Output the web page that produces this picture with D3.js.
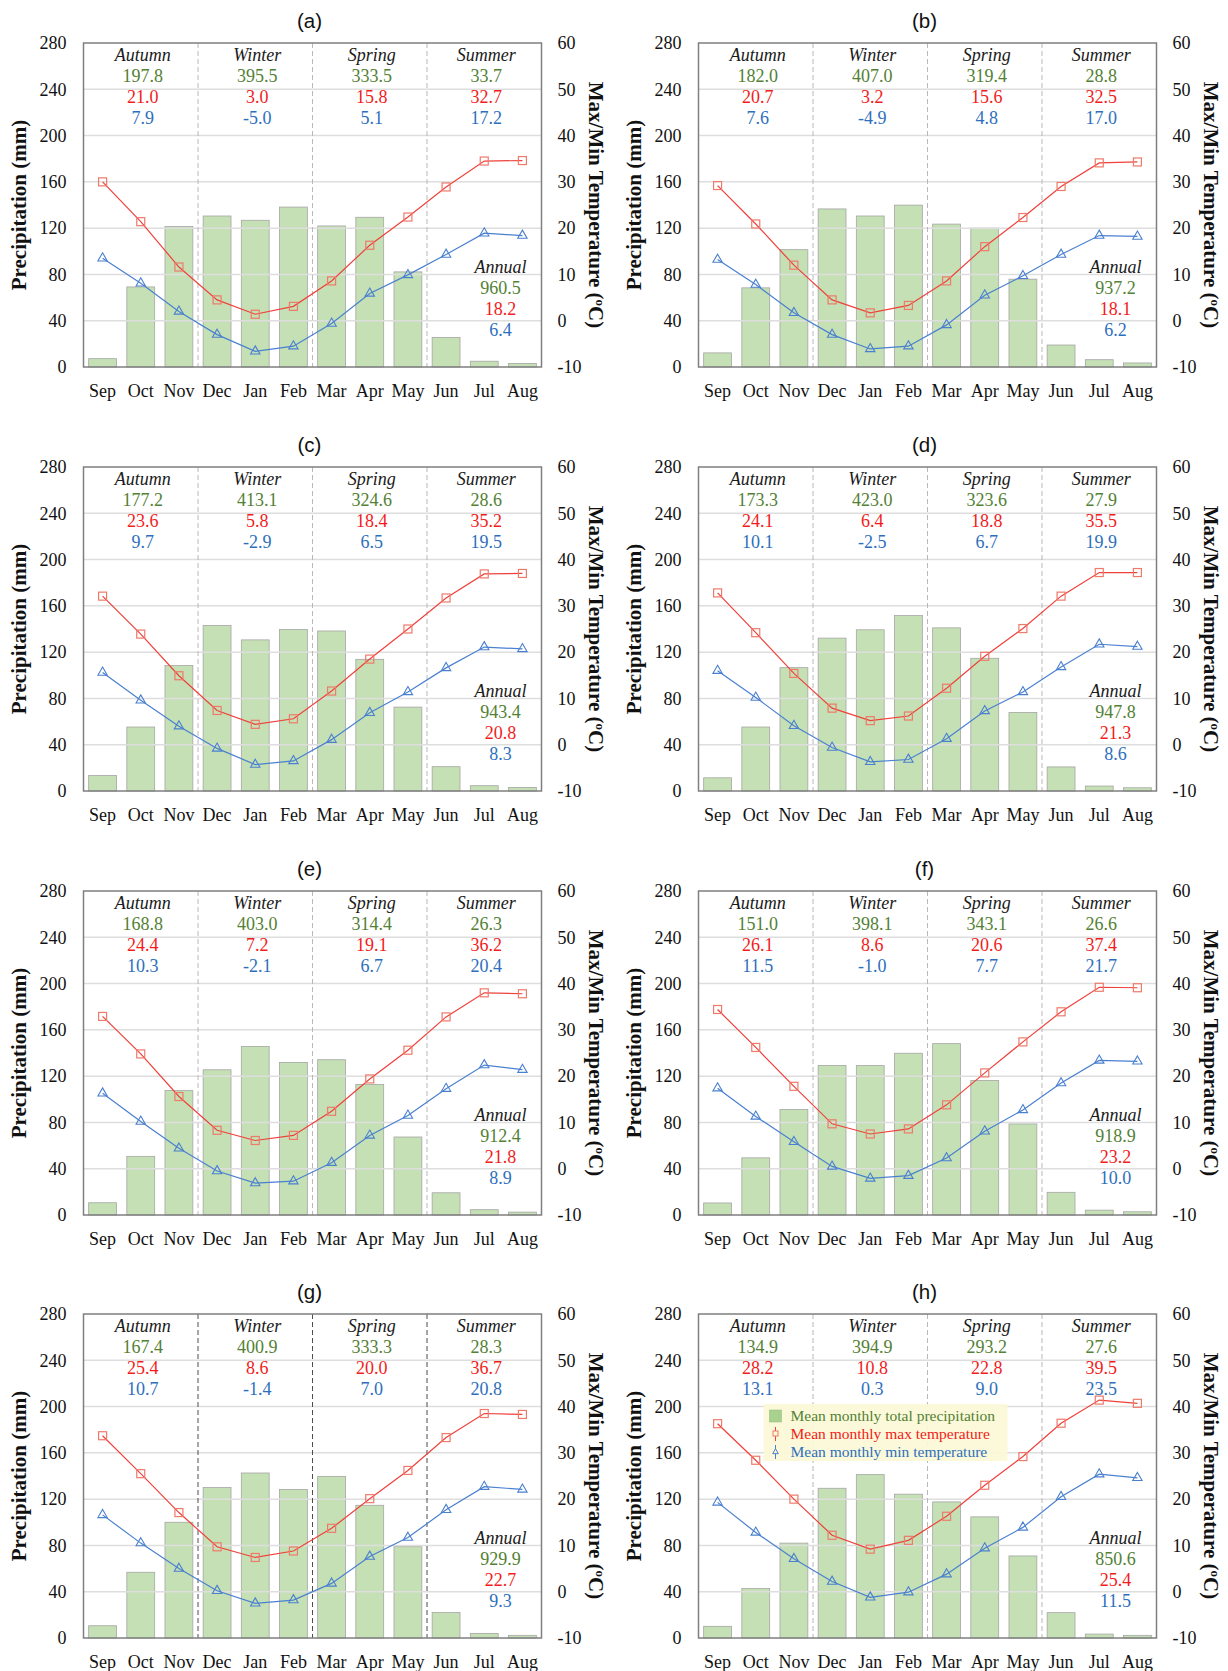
<!DOCTYPE html>
<html>
<head>
<meta charset="utf-8">
<script src="https://cdn.jsdelivr.net/npm/d3@7"></script>
<style>
  body { margin: 0; background: #fff; }
</style>
</head>
<body>
<div id="chart"></div>
<script>
// monthly climate panels (a)-(h): precipitation bars + max/min temperature lines

const months = ["Sep", "Oct", "Nov", "Dec", "Jan", "Feb", "Mar", "Apr", "May", "Jun", "Jul", "Aug"];
const panelLabels = ["(a)", "(b)", "(c)", "(d)", "(e)", "(f)", "(g)", "(h)"];
const seasons = ["Autumn", "Winter", "Spring", "Summer"];
const precipTicks = [0, 40, 80, 120, 160, 200, 240, 280];
const tempTicks = [-10, 0, 10, 20, 30, 40, 50, 60];

// mean monthly total precipitation (mm)
const precip = [
  [7.2, 69.2, 121.4, 130.5, 126.8, 138.2, 121.9, 129.4, 82.2, 25.6, 5.0, 3.1],
  [12.2, 68.4, 101.4, 136.6, 130.5, 139.9, 123.5, 120.0, 75.9, 19.0, 6.3, 3.5],
  [13.5, 55.3, 108.4, 143.0, 130.6, 139.5, 138.3, 113.8, 72.5, 21.0, 4.6, 3.0],
  [11.4, 55.3, 106.6, 132.1, 139.3, 151.6, 141.0, 114.7, 67.9, 20.8, 4.3, 2.8],
  [10.6, 50.7, 107.5, 125.5, 145.7, 131.8, 134.2, 112.8, 67.4, 19.2, 4.6, 2.5],
  [10.4, 49.4, 91.2, 129.2, 129.1, 139.8, 148.1, 116.3, 78.7, 19.6, 4.2, 2.8],
  [10.6, 56.8, 100.0, 130.0, 142.6, 128.3, 139.7, 114.7, 78.9, 22.0, 4.0, 2.3],
  [10.1, 42.8, 82.0, 129.4, 141.2, 124.3, 117.6, 104.7, 70.9, 21.9, 3.4, 2.3]
];

// mean monthly max temperature (°C)
const tmax = [
  [30.0, 21.4, 11.6, 4.5, 1.4, 3.1, 8.6, 16.3, 22.4, 28.9, 34.5, 34.6],
  [29.2, 20.9, 12.0, 4.5, 1.7, 3.3, 8.6, 16.0, 22.3, 29.0, 34.1, 34.3],
  [32.1, 23.9, 14.9, 7.4, 4.4, 5.6, 11.6, 18.5, 25.0, 31.7, 36.9, 37.0],
  [32.8, 24.2, 15.4, 7.9, 5.2, 6.2, 12.2, 19.1, 25.1, 32.1, 37.2, 37.2],
  [32.9, 24.8, 15.6, 8.3, 6.1, 7.2, 12.4, 19.4, 25.6, 32.8, 38.0, 37.8],
  [34.4, 26.2, 17.8, 9.7, 7.5, 8.6, 13.8, 20.7, 27.4, 33.9, 39.2, 39.1],
  [33.7, 25.5, 17.1, 9.7, 7.4, 8.8, 13.7, 20.1, 26.2, 33.3, 38.5, 38.3],
  [36.3, 28.4, 20.0, 12.2, 9.2, 11.1, 16.3, 23.0, 29.2, 36.4, 41.4, 40.7]
];

// mean monthly min temperature (°C)
const tmin = [
  [13.5, 8.1, 2.0, -3.0, -6.6, -5.5, -0.6, 5.9, 9.9, 14.3, 18.9, 18.4],
  [13.2, 7.8, 1.7, -3.0, -6.1, -5.5, -0.9, 5.5, 9.7, 14.3, 18.4, 18.2],
  [15.6, 9.6, 4.0, -0.8, -4.3, -3.5, 1.1, 6.9, 11.4, 16.6, 21.1, 20.7],
  [16.0, 10.2, 4.1, -0.6, -3.7, -3.2, 1.3, 7.3, 11.4, 16.8, 21.7, 21.2],
  [16.3, 10.2, 4.4, -0.5, -3.1, -2.7, 1.3, 7.2, 11.5, 17.3, 22.4, 21.4],
  [17.4, 11.3, 5.8, 0.5, -2.1, -1.5, 2.3, 8.1, 12.7, 18.5, 23.4, 23.2],
  [16.6, 10.5, 5.0, 0.2, -2.5, -1.8, 1.8, 7.6, 11.7, 17.7, 22.7, 22.1],
  [19.3, 12.8, 7.1, 2.2, -1.2, -0.1, 3.8, 9.4, 13.9, 20.5, 25.4, 24.6]
];

// seasonal totals / means printed at the top of each panel
const seasonPrecip = [
  ["197.8", "395.5", "333.5", "33.7"], ["182.0", "407.0", "319.4", "28.8"],
  ["177.2", "413.1", "324.6", "28.6"], ["173.3", "423.0", "323.6", "27.9"],
  ["168.8", "403.0", "314.4", "26.3"], ["151.0", "398.1", "343.1", "26.6"],
  ["167.4", "400.9", "333.3", "28.3"], ["134.9", "394.9", "293.2", "27.6"]
];
const seasonMax = [
  ["21.0", "3.0", "15.8", "32.7"], ["20.7", "3.2", "15.6", "32.5"],
  ["23.6", "5.8", "18.4", "35.2"], ["24.1", "6.4", "18.8", "35.5"],
  ["24.4", "7.2", "19.1", "36.2"], ["26.1", "8.6", "20.6", "37.4"],
  ["25.4", "8.6", "20.0", "36.7"], ["28.2", "10.8", "22.8", "39.5"]
];
const seasonMin = [
  ["7.9", "-5.0", "5.1", "17.2"], ["7.6", "-4.9", "4.8", "17.0"],
  ["9.7", "-2.9", "6.5", "19.5"], ["10.1", "-2.5", "6.7", "19.9"],
  ["10.3", "-2.1", "6.7", "20.4"], ["11.5", "-1.0", "7.7", "21.7"],
  ["10.7", "-1.4", "7.0", "20.8"], ["13.1", "0.3", "9.0", "23.5"]
];
const annualPrecip = ["960.5", "937.2", "943.4", "947.8", "912.4", "918.9", "929.9", "850.6"];
const annualMax = ["18.2", "18.1", "20.8", "21.3", "21.8", "23.2", "22.7", "25.4"];
const annualMin = ["6.4", "6.2", "8.3", "8.6", "8.9", "10.0", "9.3", "11.5"];

const legendItems = ["Mean monthly total precipitation", "Mean monthly max temperature", "Mean monthly min temperature"];

// colours
const cGreen = "#538135", cRed = "#f21c1c", cBlue = "#2e6fbd";
const barFill = "#c5e0b4", barStroke = "#a5a5a5";
const maxLine = "#f0403a", maxMarker = "#ee7a6a";
const minLine = "#4a80d0";
const serif = "'Liberation Serif', 'Times New Roman', serif";
const sans = "'Liberation Sans', Arial, sans-serif";

// layout
const W = 1228, H = 1671;
const plotW = 458, plotH = 324;
const colX = [83.5, 698.5];
const rowY = [43, 467, 891, 1314];
const fs = 18;

const svg = d3.select("#chart").append("svg")
  .attr("width", W).attr("height", H)
  .style("font-family", serif);

panelLabels.forEach((label, p) => {
  const left = colX[p % 2], top = rowY[Math.floor(p / 2)];
  const right = left + plotW, bottom = top + plotH;
  const g = svg.append("g");

  const x = d3.scaleBand().domain(months).range([left, right])
    .paddingInner(0.27).paddingOuter(0.135);
  const yP = d3.scaleLinear().domain([0, 280]).range([bottom, top]);
  const yT = d3.scaleLinear().domain([-10, 60]).range([bottom, top]);
  const cx = (m) => x(m) + x.bandwidth() / 2;

  // bars
  g.selectAll(".bar").data(precip[p]).enter().append("rect")
    .attr("x", (d, i) => x(months[i]))
    .attr("y", (d) => yP(d))
    .attr("width", x.bandwidth())
    .attr("height", (d) => yP(0) - yP(d))
    .attr("fill", barFill)
    .attr("stroke", barStroke)
    .attr("stroke-width", 0.8);

  // horizontal gridlines (drawn over the bars like the original)
  g.selectAll(".grid").data(precipTicks.slice(1, -1)).enter().append("line")
    .attr("x1", left).attr("x2", right)
    .attr("y1", (d) => yP(d)).attr("y2", (d) => yP(d))
    .attr("stroke", "#dedede").attr("stroke-width", 1.5);

  // season dividers
  const darkDiv = label === "(g)";
  [3, 6, 9].forEach((k) => {
    const xd = left + x.step() * k;
    g.append("line")
      .attr("x1", xd).attr("x2", xd).attr("y1", top).attr("y2", bottom)
      .attr("stroke", darkDiv ? "#4d4d4d" : "#b8b8b8")
      .attr("stroke-width", 1)
      .attr("stroke-dasharray", "5,3");
  });

  // frame
  g.append("rect")
    .attr("x", left).attr("y", top).attr("width", plotW).attr("height", plotH)
    .attr("fill", "none").attr("stroke", "#7f7f7f").attr("stroke-width", 1.5);

  // axes (plain hyphen for negatives, like the original)
  const fmt = (d) => String(d);
  const axL = g.append("g").attr("transform", `translate(${left},0)`)
    .call(d3.axisLeft(yP).tickValues(precipTicks).tickFormat(fmt).tickSize(0).tickPadding(17));
  const axR = g.append("g").attr("transform", `translate(${right},0)`)
    .call(d3.axisRight(yT).tickValues(tempTicks).tickFormat(fmt).tickSize(0).tickPadding(16));
  const axB = g.append("g").attr("transform", `translate(0,${bottom})`)
    .call(d3.axisBottom(x).tickSize(0).tickPadding(17));
  [axL, axR, axB].forEach((a) => {
    a.select(".domain").remove();
    a.attr("font-family", null).attr("font-size", null);
    a.selectAll("text")
      .style("font-family", serif)
      .style("font-size", fs + "px")
      .attr("fill", "#111");
  });

  // temperature lines
  const tline = d3.line().x((d, i) => cx(months[i])).y((d) => yT(d));
  g.append("path").datum(tmax[p]).attr("d", tline)
    .attr("fill", "none").attr("stroke", maxLine).attr("stroke-width", 1.2);
  g.append("path").datum(tmin[p]).attr("d", tline)
    .attr("fill", "none").attr("stroke", minLine).attr("stroke-width", 1.2);

  g.selectAll(".sq").data(tmax[p]).enter().append("rect")
    .attr("x", (d, i) => cx(months[i]) - 4)
    .attr("y", (d) => yT(d) - 4)
    .attr("width", 8).attr("height", 8)
    .attr("fill", "none").attr("stroke", maxMarker).attr("stroke-width", 1.2);

  g.selectAll(".tri").data(tmin[p]).enter().append("path")
    .attr("d", d3.symbol(d3.symbolTriangle, 38))
    .attr("transform", (d, i) => `translate(${cx(months[i])},${yT(d)})`)
    .attr("fill", "none").attr("stroke", minLine).attr("stroke-width", 1.1);

  // season texts
  const rows = [
    { vals: seasons, color: "#1a1a1a", italic: true, dy: 18 },
    { vals: seasonPrecip[p], color: cGreen, dy: 39 },
    { vals: seasonMax[p], color: cRed, dy: 60 },
    { vals: seasonMin[p], color: cBlue, dy: 80.5 }
  ];
  rows.forEach((r) => {
    r.vals.forEach((v, s) => {
      g.append("text")
        .attr("x", left + x.step() * (3 * s + 1.5) + 2)
        .attr("y", top + r.dy)
        .attr("text-anchor", "middle")
        .attr("font-size", fs)
        .attr("font-style", r.italic ? "italic" : "normal")
        .attr("fill", r.color)
        .text(v);
    });
  });

  // annual texts
  const ann = [
    { v: "Annual", color: "#1a1a1a", italic: true, dy: 230 },
    { v: annualPrecip[p], color: cGreen, dy: 250.5 },
    { v: annualMax[p], color: cRed, dy: 271.5 },
    { v: annualMin[p], color: cBlue, dy: 293 }
  ];
  ann.forEach((a) => {
    g.append("text")
      .attr("x", left + 417).attr("y", top + a.dy)
      .attr("text-anchor", "middle")
      .attr("font-size", fs)
      .attr("font-style", a.italic ? "italic" : "normal")
      .attr("fill", a.color)
      .text(a.v);
  });

  // panel title
  g.append("text")
    .attr("x", left + plotW / 2 - 3).attr("y", top - 15)
    .attr("text-anchor", "middle")
    .style("font-family", sans)
    .attr("font-size", 20.5)
    .attr("fill", "#111")
    .text(label);

  // axis titles
  g.append("text")
    .attr("transform", `translate(${left - 58},${(top + bottom) / 2}) rotate(-90)`)
    .attr("text-anchor", "middle")
    .attr("font-size", 21).attr("font-weight", "bold").attr("fill", "#111")
    .text("Precipitation (mm)");

  const rt = g.append("text")
    .attr("transform", `translate(${right + 47},${(top + bottom) / 2}) rotate(90)`)
    .attr("text-anchor", "middle")
    .attr("font-size", 21).attr("font-weight", "bold").attr("fill", "#111");
  rt.append("tspan").text("Max/Min Temperature (");
  rt.append("tspan").attr("font-size", 13).attr("dy", -7).text("o");
  rt.append("tspan").attr("dy", 7).text("C)");

  // legend only in panel (h)
  if (label === "(h)") {
    const lg = g.append("g").attr("transform", `translate(${left + 65},${top + 90})`);
    lg.append("rect").attr("width", 244).attr("height", 57)
      .attr("fill", "#fbf8d6").attr("fill-opacity", 0.92);
    const colors = [cGreen, cRed, cBlue];
    legendItems.forEach((t, i) => {
      const yy = 12 + i * 18;
      if (i === 0) {
        lg.append("rect").attr("x", 6).attr("y", yy - 6).attr("width", 12).attr("height", 12)
          .attr("fill", "#a9d18e").attr("stroke", "#9bbf82").attr("stroke-width", 0.6);
      } else {
        const col = i === 1 ? maxLine : minLine;
        lg.append("line").attr("x1", 12).attr("x2", 12).attr("y1", yy - 7).attr("y2", yy + 7)
          .attr("stroke", col).attr("stroke-width", 1);
        if (i === 1) {
          lg.append("rect").attr("x", 9.5).attr("y", yy - 3).attr("width", 5).attr("height", 5)
            .attr("fill", "#fbf8d6").attr("stroke", maxMarker).attr("stroke-width", 1);
        } else {
          lg.append("path").attr("d", d3.symbol(d3.symbolTriangle, 14))
            .attr("transform", `translate(12,${yy})`)
            .attr("fill", "#fbf8d6").attr("stroke", minLine).attr("stroke-width", 1);
        }
      }
      lg.append("text").attr("x", 27).attr("y", yy + 5)
        .attr("font-size", 15.5).attr("fill", colors[i]).text(t);
    });
  }
});
</script>
</body>
</html>
